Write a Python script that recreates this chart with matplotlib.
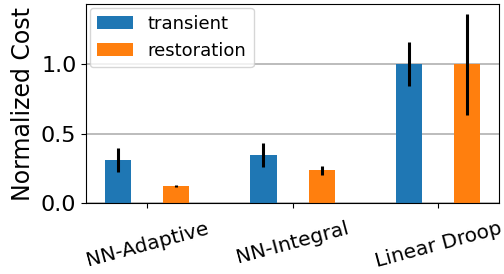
import numpy as np
import matplotlib
matplotlib.use("Agg")
import matplotlib.pyplot as plt

methods = ["NN-Adaptive", "NN-Integral", "Linear Droop"]
transient = [0.31, 0.345, 1.0]
transient_err = [0.083, 0.085, 0.16]
restoration = [0.122, 0.235, 1.0]
restoration_err = [0.008, 0.03, 0.365]

x = np.arange(len(methods))
w = 0.18

fig, ax = plt.subplots(figsize=(5.04, 2.74), dpi=100)
fig.subplots_adjust(left=0.171, right=0.990, top=0.985, bottom=0.259)

ax.bar(x - 0.2, transient, w, yerr=transient_err, color="#1f77b4",
       label="transient", error_kw=dict(elinewidth=2.2, ecolor="black"))
ax.bar(x + 0.2, restoration, w, yerr=restoration_err, color="#ff7f0e",
       label="restoration", error_kw=dict(elinewidth=2.2, ecolor="black"))

ax.yaxis.grid(True, color="#b0b0b0", linewidth=1.2)
ax.set_axisbelow(True)
ax.set_yticks([0.0, 0.5, 1.0])
ax.set_xticks(x)
ax.set_xticklabels(methods, rotation=15, fontsize=14.5)
ax.tick_params(axis="x", pad=8)
ax.tick_params(axis="y", labelsize=16)
ax.set_ylabel("Normalized Cost", fontsize=17)
ax.legend(loc="upper left", fontsize=13, borderaxespad=0.2)

fig.savefig("out.png")
